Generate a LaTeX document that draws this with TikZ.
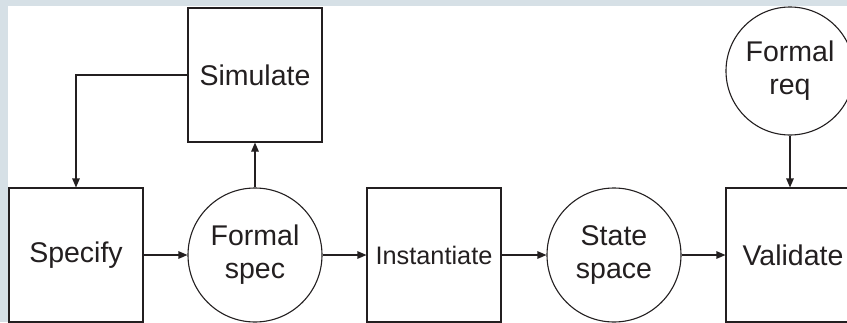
\documentclass[tikz,border=0pt]{standalone}
\usepackage{fontspec}
\setmainfont{Liberation Sans}
\usetikzlibrary{arrows.meta}
\definecolor{bandgray}{HTML}{D6E0E6}
\definecolor{inkgray}{HTML}{231F20}

\begin{document}
\begin{tikzpicture}[
x=1pt, y=1pt,
stepbox/.style={
  draw=inkgray,
  rectangle,
  minimum size=134pt,
  inner sep=0pt,
  line width=1.1pt},
artefact/.style={
  draw=inkgray,
  circle,
  minimum size=134pt,
  inner sep=0pt,
  align=center,
  line width=1.1pt},
flow/.style={
  draw=inkgray,
  line width=1.1pt,
  -{Triangle[length=9pt,width=7.5pt]}},
every node/.style={text=inkgray, font=\fontsize{28.5}{33}\selectfont}
]
\useasboundingbox (0,0) rectangle (847,-322);
\fill[bandgray] (0,0) rectangle (847,-322);
\fill[white] (8,-6) rectangle (847,-322);
\clip (8,-6) rectangle (847,-322);
% lower row
\node[stepbox] (Specify) at (76,-255) {Specify};
\node[artefact] (FSpec) at (255,-255) {Formal\\spec};
\node[stepbox, font=\fontsize{25.3}{30}\selectfont] (Instantiate) at (434,-255) {Instantiate};
\node[artefact] (Space) at (614,-255) {State\\space};
\node[stepbox] (Validate) at (793,-255) {Validate};
% upper row
\node[stepbox] (Simulate) at (255,-75) {Simulate};
\node[artefact, minimum size=128pt] (FReq) at (790,-71) {Formal\\req};
% connectors
\draw[flow] (Specify) -- (FSpec);
\draw[flow] (FSpec) -- (Simulate);
\draw[flow] (Simulate.west) -| (Specify.north);
\draw[flow] (FSpec) -- (Instantiate);
\draw[flow] (Instantiate) -- (Space);
\draw[flow] (Space) -- (Validate);
\draw[flow] (FReq.south) -- (FReq.south |- Validate.north);
\end{tikzpicture}
\end{document}
